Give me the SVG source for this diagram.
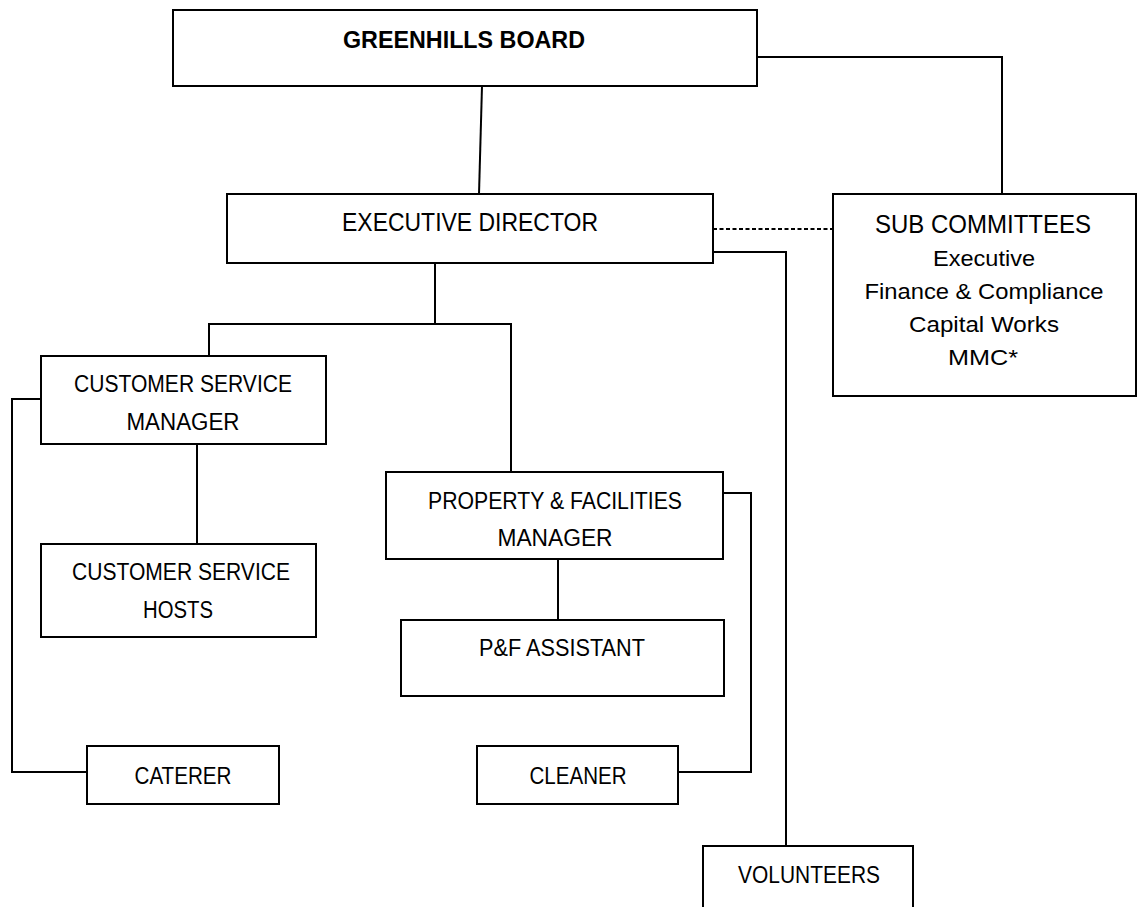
<svg xmlns="http://www.w3.org/2000/svg" width="1140" height="907" viewBox="0 0 1140 907">
<style>
.box{fill:#fff;stroke:#000;stroke-width:2}
.t{font-family:"Liberation Sans",Arial,sans-serif;font-size:23px;fill:#000;text-anchor:middle}
.b{font-weight:bold;font-size:24px}
.l{font-size:25px}
.s{font-size:22px}
.c{fill:none;stroke:#000;stroke-width:2}
</style>
<rect width="1140" height="907" fill="#fff"/>
<g id="connectors">
<path class="c" d="M482,86 L479,194" stroke-width="1.4"/>
<path class="c" d="M757,57 H1002 V194"/>
<path class="c" d="M435,263 V324 M209,356 V324 H511 V472"/>
<path class="c" d="M197,444 V544"/>
<path class="c" d="M41,399 H12 V772 H87"/>
<path class="c" d="M558,559 V620"/>
<path class="c" d="M723,493 H751 V772 H678"/>
<path class="c" d="M713,252 H786 V846"/>
<path class="c" d="M713,229 H833" stroke-dasharray="4,2.5"/>
</g>
<g id="board">
<rect class="box" x="173" y="10" width="584" height="76"/>
<text class="t b" x="464" y="48" textLength="242" lengthAdjust="spacingAndGlyphs">GREENHILLS BOARD</text>
</g>
<g id="executive-director">
<rect class="box" x="227" y="194" width="486" height="69"/>
<text class="t l" x="470" y="231" textLength="256" lengthAdjust="spacingAndGlyphs">EXECUTIVE DIRECTOR</text>
</g>
<g id="sub-committees">
<rect class="box" x="833" y="194" width="303" height="202"/>
<text class="t l" x="983" y="233" textLength="216" lengthAdjust="spacingAndGlyphs">SUB COMMITTEES</text>
<text class="t s" x="984" y="266" textLength="102" lengthAdjust="spacingAndGlyphs">Executive</text>
<text class="t s" x="984" y="299" textLength="239" lengthAdjust="spacingAndGlyphs">Finance &amp; Compliance</text>
<text class="t s" x="984" y="332" textLength="150" lengthAdjust="spacingAndGlyphs">Capital Works</text>
<text class="t s" x="983" y="365" textLength="70" lengthAdjust="spacingAndGlyphs">MMC*</text>
</g>
<g id="customer-service-manager">
<rect class="box" x="41" y="356" width="285" height="88"/>
<text class="t" x="183" y="392" textLength="218" lengthAdjust="spacingAndGlyphs">CUSTOMER SERVICE</text>
<text class="t" x="183" y="430" textLength="113" lengthAdjust="spacingAndGlyphs">MANAGER</text>
</g>
<g id="customer-service-hosts">
<rect class="box" x="41" y="544" width="275" height="93"/>
<text class="t" x="181" y="580" textLength="218" lengthAdjust="spacingAndGlyphs">CUSTOMER SERVICE</text>
<text class="t" x="178" y="618" textLength="70" lengthAdjust="spacingAndGlyphs">HOSTS</text>
</g>
<g id="caterer">
<rect class="box" x="87" y="746" width="192" height="58"/>
<text class="t" x="183" y="784" textLength="97" lengthAdjust="spacingAndGlyphs">CATERER</text>
</g>
<g id="property-facilities-manager">
<rect class="box" x="386" y="472" width="337" height="87"/>
<text class="t" x="555" y="509" textLength="254" lengthAdjust="spacingAndGlyphs">PROPERTY &amp; FACILITIES</text>
<text class="t" x="555" y="546" textLength="115" lengthAdjust="spacingAndGlyphs">MANAGER</text>
</g>
<g id="pf-assistant">
<rect class="box" x="401" y="620" width="323" height="76"/>
<text class="t" x="562" y="656" textLength="166" lengthAdjust="spacingAndGlyphs">P&amp;F ASSISTANT</text>
</g>
<g id="cleaner">
<rect class="box" x="477" y="746" width="201" height="58"/>
<text class="t" x="578" y="784" textLength="97" lengthAdjust="spacingAndGlyphs">CLEANER</text>
</g>
<g id="volunteers">
<rect class="box" x="703" y="846" width="210" height="70"/>
<text class="t" x="809" y="883" textLength="142" lengthAdjust="spacingAndGlyphs">VOLUNTEERS</text>
</g>
</svg>
